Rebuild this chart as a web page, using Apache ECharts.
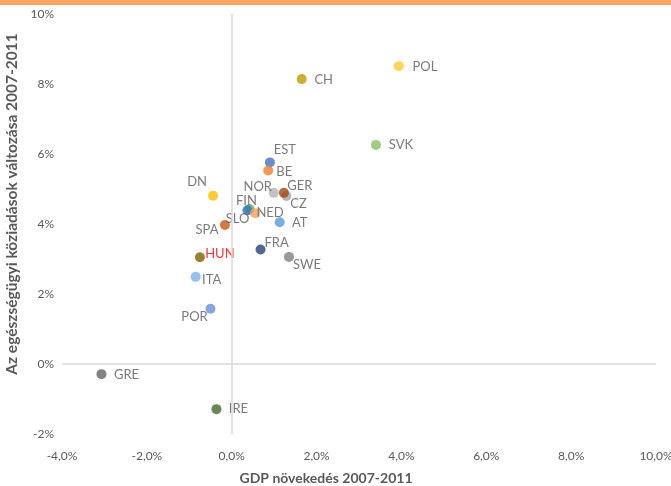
<!DOCTYPE html>
<html>
<head>
<meta charset="utf-8">
<script src="https://cdn.jsdelivr.net/npm/echarts@6/dist/echarts.min.js"></script>
<style>
  html, body { margin: 0; padding: 0; background: #fff; }
  #chart { width: 671px; height: 486px; }
</style>
</head>
<body>
<div id="chart"></div>
<script>
// országok, GDP növekedés (x) és egészségügyi köziadások változása (y), %
var countries = ['POL', 'CH', 'SVK', 'EST', 'BE', 'DN', 'NOR', 'CZ', 'GER', 'SLO', 'FIN', 'NED', 'AT', 'SPA', 'FRA', 'SWE', 'HUN', 'ITA', 'POR', 'GRE', 'IRE'];
var gdpGrowth = [3.94, 1.65, 3.40, 0.90, 0.86, -0.44, 0.99, 1.29, 1.23, 0.42, 0.37, 0.55, 1.13, -0.16, 0.68, 1.35, -0.75, -0.85, -0.50, -3.07, -0.36];
var healthSpend = [8.51, 8.14, 6.26, 5.76, 5.53, 4.81, 4.89, 4.80, 4.89, 4.43, 4.39, 4.31, 4.05, 3.97, 3.27, 3.06, 3.05, 2.49, 1.58, -0.29, -1.29];

// pont színek és címke eltolások (csak stílus)
var dotColors = {
    POL: '#FFCB33', CH: '#C29A00', SVK: '#86C064', EST: '#4472C4', BE: '#ED7D31',
    DN: '#FFC000', NOR: '#B4B4B4', CZ: '#A5A5A5', GER: '#9E480E', SLO: '#70AD47',
    FIN: '#2E75C6', NED: '#F4A060', AT: '#5B9BD5', SPA: '#C55A11', FRA: '#264478',
    SWE: '#7F7F7F', HUN: '#806000', ITA: '#7FB2E3', POR: '#6A8FD6', GRE: '#636363', IRE: '#43682B'
};
var labelOffsets = {
    POL: [26, 1], CH: [22, 1], SVK: [25, 0], EST: [15, -13], BE: [16, 1],
    DN: [-16, -14], NOR: [-16, -6], CZ: [12, 8], GER: [16, -7], SLO: [-12, 10],
    FIN: [-1, -10], NED: [15, 0], AT: [20, 1], SPA: [-18, 5], FRA: [16, -7],
    SWE: [18, 8], HUN: [20, -3], ITA: [16, 3], POR: [-16, 8], GRE: [25, 1], IRE: [22, 0]
};

var font = 'Lato, "Liberation Sans", sans-serif';

var points = countries.map(function (c, i) {
    return {
        name: c,
        value: [gdpGrowth[i], healthSpend[i]],
        itemStyle: { color: dotColors[c] },
        label: {
            show: true,
            position: 'inside',
            offset: labelOffsets[c],
            formatter: c,
            color: c === 'HUN' ? '#FF0000' : '#595959',
            fontSize: 13,
            fontFamily: font
        }
    };
});

var option = {
    backgroundColor: '#fff',
    animation: false,
    graphic: [
        { type: 'rect', left: 0, top: 0, shape: { width: 671, height: 5 }, style: { fill: '#FFA466' } }
    ],
    grid: { left: 62, right: 15, top: 14, bottom: 52, outerBoundsMode: 'none' },
    xAxis: {
        type: 'value',
        min: -4, max: 10, interval: 2,
        name: 'GDP növekedés 2007-2011',
        nameLocation: 'middle',
        nameGap: 37,
        nameTextStyle: { color: '#595959', fontWeight: 'bold', fontSize: 14, fontFamily: font, padding: [0, 66, 0, 0] },
        axisLine: { show: false },
        axisTick: { show: false },
        splitLine: { show: false },
        axisLabel: {
            color: '#595959', fontSize: 12, fontFamily: font, margin: 16,
            formatter: function (v) { return v.toFixed(1).replace('.', ',') + '%'; }
        }
    },
    yAxis: {
        type: 'value',
        min: -2, max: 10, interval: 2,
        name: 'Az egészségügyi köziadások változása 2007-2011',
        nameLocation: 'middle',
        nameRotate: 90,
        nameGap: 40,
        nameTextStyle: { color: '#595959', fontWeight: 'bold', fontSize: 15.5, fontFamily: font, padding: [0, 0, 0, 40] },
        axisLine: { show: false },
        axisTick: { show: false },
        splitLine: { show: false },
        axisLabel: {
            color: '#595959', fontSize: 12, fontFamily: font, margin: 8,
            formatter: function (v) { return v + '%'; }
        }
    },
    series: [
        {
            type: 'scatter',
            symbolSize: 10,
            data: points,
            markLine: {
                silent: true,
                symbol: 'none',
                label: { show: false },
                lineStyle: { color: '#D9D9D9', width: 1.5, type: 'solid' },
                data: [{ xAxis: 0 }, { yAxis: 0 }]
            }
        }
    ]
};

echarts.init(document.getElementById('chart')).setOption(option);
</script>
</body>
</html>
